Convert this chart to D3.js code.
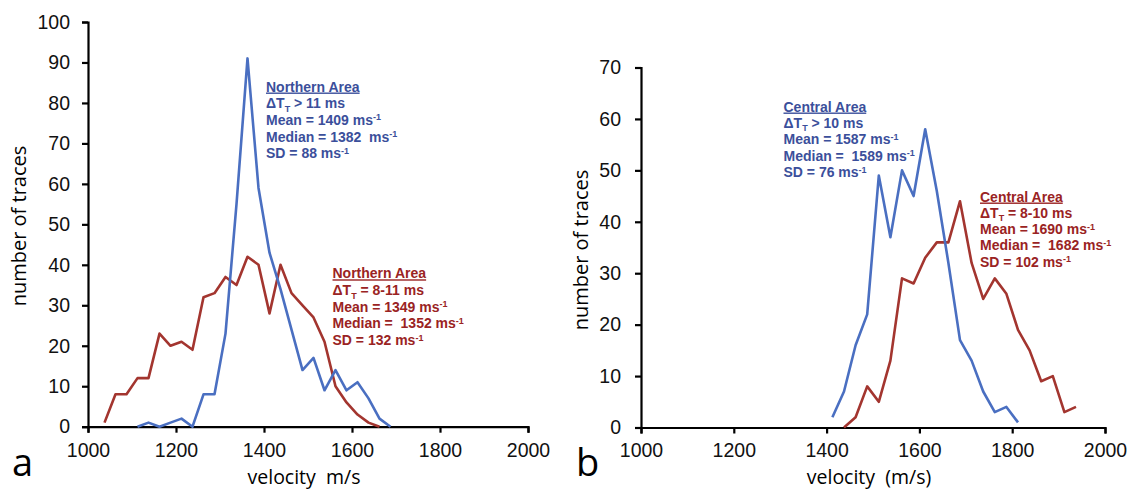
<!DOCTYPE html>
<html>
<head>
<meta charset="utf-8">
<script src="https://cdn.jsdelivr.net/npm/d3@7"></script>
<style>
  body { margin: 0; background: #fff; }
  svg { display: block; }
  .tick text { font-family: "Liberation Sans", Arial, sans-serif; }
</style>
</head>
<body>
<script>
'use strict';

// velocity bins (m/s, bin centres) and trace counts
const northLongX = [1112.5, 1137.5, 1162.5, 1187.5, 1212.5, 1237.5, 1262.5, 1287.5, 1312.5, 1337.5, 1362.5, 1387.5,
  1412.5, 1437.5, 1462.5, 1487.5, 1512.5, 1537.5, 1562.5, 1587.5, 1612.5, 1637.5, 1662.5, 1687.5];
const northLongCount = [0, 1, 0, 1, 2, 0, 8, 8, 23, 55, 91, 59, 43, 34, 24, 14, 17, 9, 14, 9, 11, 7, 2, 0];

const northShortX = [1037.5, 1062.5, 1087.5, 1112.5, 1137.5, 1162.5, 1187.5, 1212.5, 1237.5, 1262.5, 1287.5, 1312.5,
  1337.5, 1362.5, 1387.5, 1412.5, 1437.5, 1462.5, 1487.5, 1512.5, 1537.5, 1562.5, 1587.5, 1612.5, 1637.5, 1662.5];
const northShortCount = [1, 8, 8, 12, 12, 23, 20, 21, 19, 32, 33, 37, 35, 42, 40, 28, 40, 33, 30, 27, 21, 10, 6, 3, 1, 0];

const centralLongX = [1412.5, 1437.5, 1462.5, 1487.5, 1512.5, 1537.5, 1562.5, 1587.5, 1612.5, 1637.5, 1662.5, 1687.5,
  1712.5, 1737.5, 1762.5, 1787.5, 1812.5];
const centralLongCount = [2, 7, 16, 22, 49, 37, 50, 45, 58, 46, 32, 17, 13, 7, 3, 4, 1];

const centralShortX = [1437.5, 1462.5, 1487.5, 1512.5, 1537.5, 1562.5, 1587.5, 1612.5, 1637.5, 1662.5, 1687.5, 1712.5,
  1737.5, 1762.5, 1787.5, 1812.5, 1837.5, 1862.5, 1887.5, 1912.5, 1937.5];
const centralShortCount = [0, 2, 8, 5, 13, 29, 28, 33, 36, 36, 44, 32, 25, 29, 26, 19, 15, 9, 10, 3, 4];

const xTicks = [1000, 1200, 1400, 1600, 1800, 2000];
const yTicksA = [0, 10, 20, 30, 40, 50, 60, 70, 80, 90, 100];
const yTicksB = [0, 10, 20, 30, 40, 50, 60, 70];

// annotation lines: [text, kind] pieces, kind n = normal, sub, sup
const noteNorthLong = [
  [["Northern Area", "title"]],
  [["\u0394T", "n"], ["T", "sub"], [" > 11 ms", "n"]],
  [["Mean = 1409 ms", "n"], ["-1", "sup"]],
  [["Median = 1382  ms", "n"], ["-1", "sup"]],
  [["SD = 88 ms", "n"], ["-1", "sup"]]
];
const noteNorthShort = [
  [["Northern Area", "title"]],
  [["\u0394T", "n"], ["T", "sub"], [" = 8-11 ms", "n"]],
  [["Mean = 1349 ms", "n"], ["-1", "sup"]],
  [["Median =  1352 ms", "n"], ["-1", "sup"]],
  [["SD = 132 ms", "n"], ["-1", "sup"]]
];
const noteCentralLong = [
  [["Central Area", "title"]],
  [["\u0394T", "n"], ["T", "sub"], [" > 10 ms", "n"]],
  [["Mean = 1587 ms", "n"], ["-1", "sup"]],
  [["Median =  1589 ms", "n"], ["-1", "sup"]],
  [["SD = 76 ms", "n"], ["-1", "sup"]]
];
const noteCentralShort = [
  [["Central Area", "title"]],
  [["\u0394T", "n"], ["T", "sub"], [" = 8-10 ms", "n"]],
  [["Mean = 1690 ms", "n"], ["-1", "sup"]],
  [["Median =  1682 ms", "n"], ["-1", "sup"]],
  [["SD = 102 ms", "n"], ["-1", "sup"]]
];

let blueLine = "#4a6fc1";
let redLine = "#a3352f";
let blueText = "#3b4f9b";
let redText = "#9a2323";

let svg = d3.select("body").append("svg")
  .attr("width", 1130)
  .attr("height", 490);

// draw one panel: axes, two lines, notes and labels
function drawPanel(p) {
  let xScale = d3.scaleLinear().domain([1000, 2000]).range([p.left, p.right]);
  let yScale = d3.scaleLinear().domain([0, p.yMax]).range([p.bottom, p.top]);

  let xAxis = d3.axisBottom(xScale).tickValues(xTicks).tickFormat(d3.format("d"))
    .tickSize(6).tickPadding(10);
  let gx = svg.append("g")
    .attr("transform", "translate(0," + p.bottom + ")")
    .call(xAxis);

  let yAxis = d3.axisLeft(yScale).tickValues(p.yTicks).tickFormat(d3.format("d"))
    .tickSize(6).tickPadding(p.yPad);
  let gy = svg.append("g")
    .attr("transform", "translate(" + p.left + ",0)")
    .call(yAxis);

  [gx, gy].forEach(function(g) {
    g.selectAll("path, line").attr("stroke", "#000").attr("stroke-width", 2.2);
    g.selectAll("text").style("font-size", "19.5px").attr("fill", "#111");
  });

  let line = d3.line()
    .x(function(d) { return xScale(d[0]); })
    .y(function(d) { return yScale(d[1]); });

  p.series.forEach(function(s) {
    svg.append("path")
      .datum(d3.zip(s.x, s.y))
      .attr("d", line)
      .attr("fill", "none")
      .attr("stroke", s.color)
      .attr("stroke-width", 2.6)
      .attr("stroke-linejoin", "round");
  });

  p.notes.forEach(function(n) { writeNote(n); });

  // axis titles
  svg.append("text")
    .attr("x", (p.left + p.right) / 2 - 4)
    .attr("y", 484)
    .attr("text-anchor", "middle")
    .style("font-family", "'Open Sans', sans-serif")
    .style("font-size", "19.5px")
    .attr("xml:space", "preserve")
    .text(p.xTitle);

  svg.append("text")
    .attr("transform", "translate(" + p.yTitleX + "," + p.yTitleY + ")rotate(-90)")
    .attr("text-anchor", "middle")
    .style("font-family", "'Open Sans', sans-serif")
    .style("font-size", "20px")
    .text("number of traces");

  svg.append("text")
    .attr("x", p.letterX)
    .attr("y", 476)
    .style("font-family", "'Open Sans', sans-serif")
    .style("font-size", "38px")
    .text(p.letter);
}

// write a multi-line statistics note
function writeNote(n) {
  n.lines.forEach(function(parts, i) {
    let t = svg.append("text")
      .attr("x", n.x)
      .attr("y", n.y + i * n.step)
      .attr("fill", n.color)
      .attr("xml:space", "preserve")
      .style("font-family", "'Liberation Sans', Arial, sans-serif")
      .style("font-weight", "bold")
      .style("font-size", "14px");
    let shift = 0;
    parts.forEach(function(part) {
      let ts = t.append("tspan").text(part[0]);
      let want = part[1] == "sub" ? 3.5 : (part[1] == "sup" ? -4.5 : 0);
      ts.attr("dy", want - shift);
      shift = want;
      if (part[1] == "sub" || part[1] == "sup") ts.style("font-size", "9px");
      if (part[1] == "title") ts.style("text-decoration", "underline");
    });
  });
}

drawPanel({
  left: 88, right: 528, top: 22, bottom: 426.7, yMax: 100, yTicks: yTicksA, yPad: 12,
  xTitle: "velocity  m/s", yTitleX: 26, yTitleY: 226, letter: "a", letterX: 12,
  series: [
    { x: northShortX, y: northShortCount, color: redLine },
    { x: northLongX, y: northLongCount, color: blueLine }
  ],
  notes: [
    { lines: noteNorthLong, x: 266, y: 91.5, step: 16.7, color: blueText },
    { lines: noteNorthShort, x: 332.5, y: 278.3, step: 16.7, color: redText }
  ]
});

drawPanel({
  left: 641, right: 1105, top: 67.5, bottom: 427.5, yMax: 70, yTicks: yTicksB, yPad: 14,
  xTitle: "velocity  (m/s)", yTitleX: 588, yTitleY: 250, letter: "b", letterX: 576,
  series: [
    { x: centralShortX, y: centralShortCount, color: redLine },
    { x: centralLongX, y: centralLongCount, color: blueLine }
  ],
  notes: [
    { lines: noteCentralLong, x: 783.5, y: 111.5, step: 16.4, color: blueText },
    { lines: noteCentralShort, x: 980, y: 201.5, step: 16.3, color: redText }
  ]
});
</script>
</body>
</html>
